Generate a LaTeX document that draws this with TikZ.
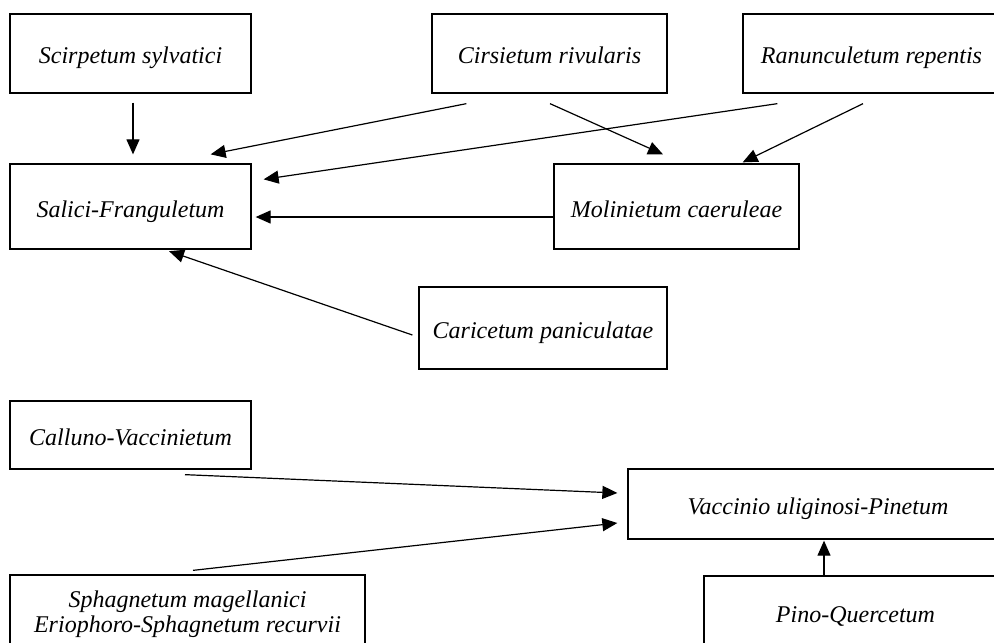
\documentclass[tikz,border=0pt]{standalone}
\usepackage{fontspec}
\setmainfont{Liberation Serif}
\usetikzlibrary{arrows.meta,calc}
\tikzset{
  assoc/.style={draw, line width=0.65pt, inner sep=0pt, anchor=center,
    font=\itshape\fontsize{12}{12.5}\selectfont, align=center,
    text height=12.5pt, text depth=2pt},
}
\begin{document}
\begin{tikzpicture}[x=0.5pt, y=-0.5pt, >={Triangle[length=7.5pt,width=6.5pt]}, line width=0.6pt]
\useasboundingbox (0,0) rectangle (994,642);
\clip (0,0) rectangle (994,642);
% upper group
\node[assoc, minimum width=120.5pt, minimum height=39.5pt] (sci) at (130.5,53.5) {Scirpetum sylvatici};
\node[assoc, minimum width=117.5pt, minimum height=39.5pt] (cir) at (549.5,53.5) {Cirsietum rivularis};
\node[assoc, minimum width=128.5pt, minimum height=39.5pt] (ran) at (871.5,53.5) {Ranunculetum repentis};
\node[assoc, minimum width=120.5pt, minimum height=42.5pt] (sal) at (130.5,206.5) {Salici-Franguletum};
\node[assoc, minimum width=122.5pt, minimum height=42.5pt] (mol) at (676.5,206.5) {Molinietum caeruleae};
\node[assoc, minimum width=124pt, minimum height=41pt] (car) at (543,328) {Caricetum paniculatae};
% lower group
\node[assoc, minimum width=120.5pt, minimum height=34pt] (cal) at (130.5,435) {Calluno-Vaccinietum};
\node[assoc, minimum width=190pt, minimum height=35pt] (vac) at (818,504) {Vaccinio uliginosi-Pinetum};
\node[assoc, minimum width=177.5pt, minimum height=40pt, text height=20pt, text depth=3pt] (sph) at (187.5,615) {Sphagnetum magellanici\\Eriophoro-Sphagnetum recurvii};
\node[assoc, minimum width=151.5pt, minimum height=36pt] (pin) at (855.5,612) {Pino-Quercetum};

\draw[->] ($(sci.south)+(2.5,9)$) -- ($(sal.north)+(2.5,-9)$);
\draw[->] ($(cir.south west)+(35,10)$) -- ($(sal.north east)+(-41,-9)$);
\draw[->] ($(ran.south west)+(35,10)$) -- ($(sal.north east)+(12,16)$);
\draw[->] ($(cir.south)+(0.5,10)$) -- ($(mol.north)+(-13.5,-9)$);
\draw[->] ($(ran.south)+(-8.5,10)$) -- ($(mol.north east)+(-57,-1)$);
\draw[->] ($(mol.west)+(0,10.5)$) -- ($(sal.east)+(4,10.5)$);
\draw[->] ($(car.west)+(-6,7)$) -- ($(sal.south)+(38.5,1.5)$);

\draw[->] ($(cal.south)+(54.5,5)$) -- ($(vac.west)+(-10,-11)$);
\draw[->] ($(sph.north)+(5.5,-4)$) -- ($(vac.west)+(-10,19)$);
\draw[->] ($(pin.north)+(-31.5,0)$) -- ($(vac.south)+(6,1)$);

\end{tikzpicture}
\end{document}
